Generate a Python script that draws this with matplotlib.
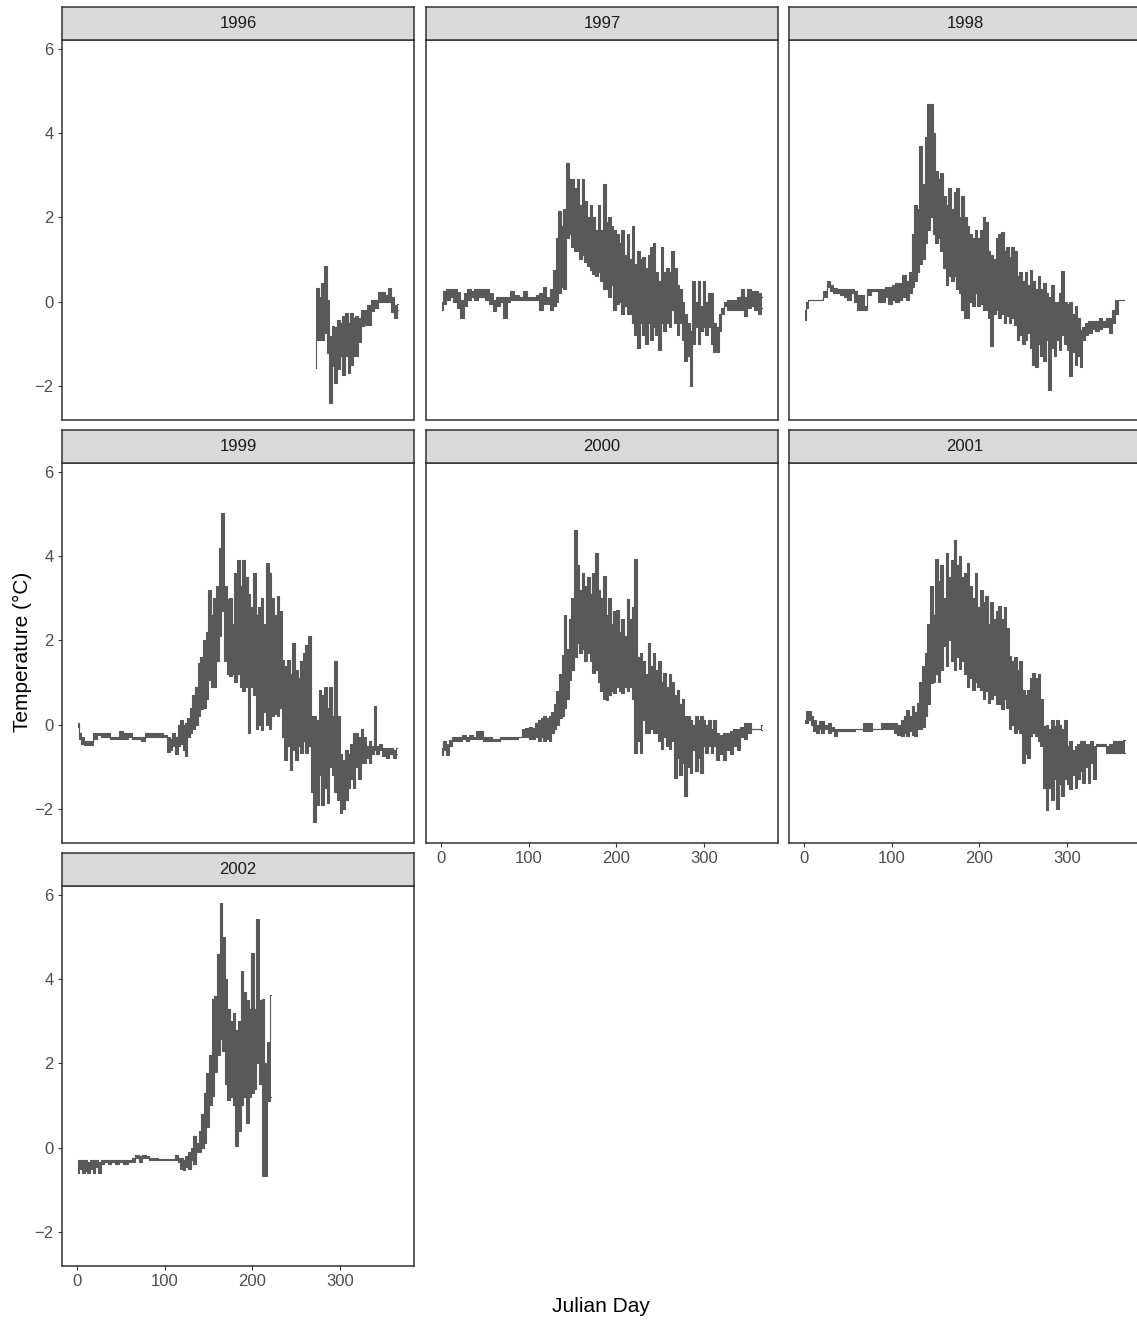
import matplotlib
matplotlib.use('Agg')
import matplotlib.pyplot as plt

plt.rcParams['font.family'] = ['Liberation Sans', 'DejaVu Sans']

# data: daily band (low / high) of temperature per year
YEARS = ["1996", "1997", "1998", "1999", "2000", "2001", "2002"]

DAYS_1996 = [272, 274, 277, 280, 283, 286, 289, 292, 295, 298,
             301, 304, 307, 310, 313, 316, 319, 322, 325, 329,
             333, 337, 341, 345, 349, 353, 357, 360, 363, 366]
LO_1996 = [-1.58, -0.9, -0.9, -0.9, -0.75, -1.22, -2.4, -1.53, -1.93, -1.6,
           -1.3, -1.74, -1.3, -1.7, -1.5, -1.3, -1.3, -0.95, -0.59, -0.55,
           -0.55, -0.23, -0.15, 0.0, 0.0, 0.0, 0.0, -0.25, -0.39, -0.2]
HI_1996 = [0.32, 0.32, 0.1, 0.44, 0.84, 0.05, -0.82, -0.58, -0.6, -0.43,
           -0.5, -0.35, -0.27, -0.5, -0.27, -0.4, -0.35, -0.4, -0.2, -0.2,
           -0.07, 0.05, 0.05, 0.24, 0.24, 0.15, 0.32, 0.1, -0.07, -0.05]

DAYS_1997 = [1, 4, 8, 12, 16, 20, 24, 28, 32, 36,
             40, 44, 48, 52, 57, 61, 65, 69, 73, 77,
             81, 86, 91, 96, 101, 106, 110, 114, 118, 122,
             126, 129, 132, 135, 138, 141, 144, 147, 150, 153,
             156, 159, 162, 165, 168, 171, 174, 177, 180, 183,
             186, 189, 192, 195, 198, 201, 204, 207, 210, 213,
             216, 219, 222, 225, 228, 231, 234, 237, 240, 243,
             246, 249, 252, 255, 258, 261, 264, 267, 270, 273,
             276, 279, 282, 285, 288, 291, 294, 297, 300, 303,
             306, 309, 312, 315, 318, 321, 324, 328, 332, 336,
             340, 344, 347, 351, 355, 359, 363, 366]
LO_1997 = [-0.19, -0.05, 0.05, 0.1, 0.0, -0.15, -0.39, -0.1, 0.05, 0.1,
           0.05, 0.1, 0.1, 0.05, -0.05, -0.22, -0.1, 0.0, -0.39, 0.0,
           0.05, 0.05, 0.05, 0.05, 0.05, 0.05, 0.05, -0.2, -0.05, -0.05,
           -0.2, -0.1, 0.0, 0.2, 0.35, 0.3, 1.5, 1.6, 1.3, 1.2,
           1.2, 1.0, 1.1, 0.95, 0.85, 0.75, 0.65, 0.6, 0.7, 0.5,
           0.3, 0.3, 0.1, 0.4, -0.2, -0.05, 0.0, -0.3, -0.1, -0.3,
           -0.3, -0.5, -0.8, -1.1, -0.5, -0.8, -1.0, -0.5, -0.9, -0.6,
           -0.8, -1.15, -0.5, -0.7, -0.5, -0.6, -0.2, -0.5, -0.8, -0.5,
           -0.9, -1.4, -1.3, -2.0, -1.0, -0.6, -1.0, -0.7, -0.6, -0.8,
           -0.6, -1.0, -1.2, -1.2, -0.7, -0.3, -0.1, -0.2, -0.2, -0.2,
           -0.2, -0.2, -0.35, -0.15, -0.1, -0.2, -0.3, -0.15]
HI_1997 = [0.0, 0.25, 0.3, 0.3, 0.3, 0.22, 0.05, 0.2, 0.3, 0.25,
           0.3, 0.3, 0.3, 0.3, 0.2, 0.05, 0.1, 0.1, 0.1, 0.1,
           0.25, 0.15, 0.1, 0.25, 0.1, 0.1, 0.15, 0.2, 0.35, 0.1,
           0.3, 0.75, 1.5, 2.15, 1.8, 2.2, 3.3, 2.9, 2.9, 2.7,
           2.9, 2.3, 2.9, 2.4, 2.0, 2.3, 2.0, 1.7, 2.3, 1.7,
           2.8, 1.9, 2.0, 1.8, 1.7, 1.6, 1.4, 1.7, 1.1, 1.6,
           1.0, 1.8, 0.9, 1.2, 1.0, 1.05, 0.8, 1.1, 1.3, 1.4,
           0.7, 0.5, 1.3, 0.7, 0.8, 0.7, 1.2, 0.8, 0.4, 0.3,
           0.0, -0.3, -0.5, -0.7, 0.5, 0.0, 0.5, -0.1, 0.5, 0.0,
           0.2, 0.2, -0.5, -0.6, -0.3, -0.15, 0.0, 0.05, 0.05, 0.05,
           0.1, 0.3, 0.1, 0.3, 0.25, 0.25, 0.2, 0.1]

DAYS_1998 = [1, 3, 5, 10, 15, 20, 24, 28, 31, 35,
             39, 43, 47, 51, 55, 59, 62, 66, 70, 74,
             78, 82, 86, 90, 94, 98, 102, 106, 110, 114,
             118, 121, 124, 127, 130, 133, 136, 139, 142, 145,
             148, 151, 154, 157, 160, 163, 166, 169, 172, 175,
             178, 181, 184, 187, 190, 193, 196, 199, 202, 205,
             208, 211, 214, 217, 220, 223, 226, 229, 232, 235,
             238, 241, 244, 247, 250, 253, 256, 259, 262, 265,
             268, 271, 274, 277, 280, 283, 286, 289, 292, 295,
             298, 301, 304, 307, 310, 313, 316, 319, 322, 326,
             330, 334, 338, 342, 346, 350, 353, 356, 360, 365]
LO_1998 = [-0.43, -0.15, 0.03, 0.03, 0.03, 0.03, 0.1, 0.35, 0.25, 0.2,
           0.2, 0.15, 0.1, 0.05, 0.2, 0.0, -0.2, -0.2, -0.2, 0.15,
           0.25, 0.25, 0.0, 0.0, 0.1, -0.05, 0.05, 0.0, 0.05, 0.1,
           0.05, 0.2, 0.35, 0.5, 0.7, 0.9, 1.0, 1.4, 1.7, 2.0,
           1.6, 1.4, 1.5, 1.2, 0.8, 0.4, 0.6, 0.5, 0.6, 0.3,
           0.2, -0.2, -0.4, -0.4, 0.0, -0.1, 0.2, -0.1, -0.05, -0.2,
           -0.2, -0.4, -1.06, -0.3, -0.2, -0.4, -0.3, -0.5, -0.35, -0.5,
           -0.4, -0.55, -0.9, -0.8, -1.0, -0.9, -0.75, -1.1, -1.5, -1.55,
           -1.0, -1.3, -1.4, -0.9, -2.1, -1.1, -1.3, -0.9, -1.15, -0.8,
           -1.0, -1.15, -1.77, -1.2, -1.5, -1.3, -1.55, -0.9, -0.8, -0.75,
           -0.65, -0.7, -0.65, -0.6, -0.6, -0.75, -0.5, -0.3, 0.03, 0.03]
HI_1998 = [-0.2, 0.0, 0.03, 0.03, 0.03, 0.03, 0.25, 0.5, 0.4, 0.33,
           0.3, 0.3, 0.3, 0.3, 0.3, 0.25, 0.15, 0.15, -0.1, 0.3,
           0.3, 0.3, 0.3, 0.3, 0.35, 0.35, 0.4, 0.45, 0.45, 0.64,
           0.5, 0.7, 1.6, 2.3, 2.2, 3.7, 2.8, 3.9, 4.7, 4.7,
           4.0, 3.1, 2.9, 3.05, 2.5, 2.3, 2.7, 2.2, 2.6, 2.7,
           2.0, 2.5, 2.0, 1.8, 1.6, 1.5, 1.7, 1.5, 1.7, 2.0,
           1.9, 1.2, 1.1, 1.0, 1.5, 1.6, 1.65, 1.2, 1.3, 1.05,
           1.3, 1.2, 0.6, 0.7, 0.5, 0.7, 0.4, 0.76, 0.5, 0.3,
           0.6, 0.3, 0.45, 0.2, 0.1, 0.4, 0.0, 0.0, 0.2, 0.72,
           0.0, -0.05, 0.0, -0.3, -0.1, -0.4, -0.67, -0.6, -0.5, -0.45,
           -0.45, -0.45, -0.4, -0.45, -0.4, -0.4, -0.2, 0.03, 0.03, 0.03]

DAYS_1999 = [1, 3, 6, 10, 15, 20, 25, 30, 35, 40,
             45, 50, 55, 60, 65, 70, 75, 80, 85, 90,
             95, 100, 104, 107, 110, 113, 116, 119, 122, 124,
             127, 130, 133, 136, 139, 142, 145, 148, 151, 154,
             157, 160, 163, 166, 169, 172, 175, 178, 181, 184,
             187, 190, 193, 196, 199, 202, 205, 208, 211, 214,
             217, 220, 223, 226, 229, 232, 235, 238, 241, 244,
             247, 250, 253, 256, 259, 262, 265, 268, 271, 274,
             277, 280, 283, 286, 289, 292, 295, 298, 301, 304,
             307, 310, 313, 316, 319, 322, 325, 328, 331, 334,
             337, 340, 343, 346, 350, 354, 358, 362, 365]
LO_1999 = [-0.05, -0.35, -0.45, -0.48, -0.48, -0.35, -0.25, -0.3, -0.3, -0.35,
           -0.35, -0.35, -0.35, -0.3, -0.35, -0.35, -0.4, -0.3, -0.3, -0.3,
           -0.3, -0.3, -0.65, -0.6, -0.5, -0.7, -0.5, -0.45, -0.6, -0.75,
           -0.3, -0.2, -0.1, 0.0, 0.2, 0.36, 0.4, 0.6, 1.07, 0.9,
           0.9, 1.5, 2.1, 2.7, 1.5, 1.2, 1.15, 1.2, 1.0, 1.2,
           0.9, 0.8, 0.9, -0.2, 0.9, 0.7, -0.1, 0.0, -0.12, 0.3,
           0.0, -0.1, 0.2, 0.25, 0.2, 0.4, -0.3, -0.83, -0.5, -1.07,
           -0.6, -0.83, -0.5, -0.67, -0.4, -0.67, -0.5, -1.6, -2.3, -1.9,
           -1.2, -1.9, -1.5, -1.85, -1.0, -1.2, -1.6, -1.8, -2.1, -2.0,
           -1.8, -1.5, -1.3, -1.5, -1.0, -1.3, -0.9, -0.9, -0.8, -0.9,
           -0.7, -0.6, -0.7, -0.6, -0.75, -0.8, -0.7, -0.8, -0.7]
HI_1999 = [0.04, -0.2, -0.3, -0.4, -0.4, -0.2, -0.2, -0.2, -0.2, -0.3,
           -0.3, -0.15, -0.2, -0.2, -0.3, -0.3, -0.3, -0.2, -0.2, -0.2,
           -0.2, -0.25, -0.3, -0.35, -0.2, -0.3, 0.0, 0.1, 0.0, 0.05,
           0.15, 0.4, 0.7, 0.9, 1.46, 1.6, 2.0, 2.2, 3.2, 2.6,
           3.0, 3.3, 4.2, 5.03, 3.3, 2.97, 3.0, 2.4, 3.6, 3.9,
           3.3, 3.9, 3.5, 3.1, 2.8, 3.6, 2.6, 2.8, 3.0, 2.4,
           3.84, 3.6, 3.0, 2.6, 3.05, 2.7, 1.54, 1.4, 1.54, 1.2,
           1.94, 1.3, 1.1, 1.5, 1.7, 1.9, 2.1, 0.2, 0.2, 0.1,
           0.83, 0.7, 0.9, 0.4, 0.9, 0.2, 1.5, 0.2, -0.7, -0.83,
           -0.6, -0.7, -0.45, -0.2, -0.2, -0.3, -0.1, -0.3, -0.5, -0.4,
           -0.5, 0.44, -0.5, -0.45, -0.55, -0.55, -0.55, -0.6, -0.55]

DAYS_2000 = [1, 4, 7, 10, 14, 18, 22, 26, 30, 34,
             38, 42, 46, 50, 55, 60, 65, 70, 75, 80,
             85, 90, 94, 98, 102, 106, 109, 112, 115, 118,
             121, 124, 127, 130, 133, 136, 139, 141, 144, 147,
             150, 153, 156, 159, 162, 165, 168, 171, 174, 177,
             180, 183, 186, 189, 192, 195, 198, 201, 204, 207,
             210, 213, 216, 219, 222, 225, 228, 231, 234, 237,
             240, 243, 246, 249, 252, 255, 258, 261, 264, 267,
             270, 273, 276, 279, 282, 285, 288, 291, 294, 297,
             300, 303, 306, 309, 312, 315, 319, 323, 327, 331,
             335, 339, 343, 347, 351, 355, 359, 363, 366]
LO_2000 = [-0.71, -0.6, -0.71, -0.5, -0.4, -0.4, -0.4, -0.35, -0.4, -0.35,
           -0.35, -0.35, -0.35, -0.4, -0.4, -0.4, -0.4, -0.35, -0.35, -0.35,
           -0.35, -0.3, -0.3, -0.3, -0.35, -0.35, -0.3, -0.4, -0.3, -0.4,
           -0.35, -0.4, -0.2, -0.1, 0.0, 0.15, 0.2, 0.4, 0.6, 1.07,
           1.3, 1.6, 1.94, 1.7, 1.8, 1.5, 1.7, 1.5, 1.23, 1.3,
           1.0, 0.8, 0.6, 0.59, 0.7, 0.8, 0.75, 0.9, 0.8, 0.75,
           0.9, 0.8, 0.9, 0.6, -0.67, -0.4, -0.67, 0.1, -0.2, -0.2,
           -0.1, -0.2, -0.2, -0.4, -0.59, -0.3, -0.5, -0.59, -0.4, -1.27,
           -0.8, -1.2, -0.9, -1.7, -1.0, -1.15, -0.6, -1.1, -0.8, -1.15,
           -0.5, -0.67, -0.5, -0.67, -0.5, -0.83, -0.7, -0.83, -0.6, -0.7,
           -0.5, -0.6, -0.3, -0.35, -0.2, -0.1, -0.1, -0.1, -0.12]
HI_2000 = [-0.55, -0.4, -0.45, -0.36, -0.3, -0.3, -0.3, -0.25, -0.3, -0.25,
           -0.3, -0.16, -0.16, -0.3, -0.3, -0.35, -0.35, -0.3, -0.3, -0.3,
           -0.3, -0.3, -0.1, -0.08, -0.05, -0.08, 0.05, 0.1, 0.15, 0.2,
           0.15, 0.2, 0.3, 0.5, 0.8, 1.2, 1.66, 2.61, 1.8, 2.5,
           3.0, 4.63, 3.8, 3.2, 3.6, 3.3, 3.5, 3.1, 3.6, 4.08,
           3.2, 3.0, 3.52, 2.6, 3.0, 2.4, 2.7, 2.73, 2.2, 2.5,
           2.1, 2.97, 2.5, 2.8, 3.92, 1.6, 1.7, 1.5, 1.2, 1.94,
           1.4, 1.7, 1.3, 1.5, 1.0, 1.23, 0.9, 1.2, 1.0, 0.7,
           0.83, 0.5, 0.6, 0.2, 0.2, 0.1, 0.0, 0.2, 0.1, 0.2,
           0.1, 0.0, 0.12, -0.1, 0.1, -0.2, -0.25, -0.2, -0.2, -0.15,
           -0.1, -0.1, -0.05, 0.04, 0.04, -0.1, -0.1, -0.1, 0.0]

DAYS_2001 = [1, 3, 6, 9, 12, 15, 18, 21, 25, 29,
             33, 36, 40, 45, 50, 55, 60, 65, 70, 75,
             80, 85, 90, 95, 100, 104, 108, 112, 115, 118,
             121, 124, 127, 130, 133, 136, 139, 142, 145, 148,
             151, 154, 157, 160, 163, 166, 169, 172, 175, 178,
             181, 184, 187, 190, 193, 196, 199, 202, 205, 208,
             211, 214, 217, 220, 223, 226, 229, 232, 235, 238,
             241, 244, 247, 250, 253, 256, 259, 262, 265, 268,
             271, 274, 277, 280, 283, 286, 289, 292, 295, 298,
             301, 304, 307, 310, 313, 316, 319, 322, 325, 328,
             331, 334, 338, 342, 346, 350, 354, 358, 362, 366]
LO_2001 = [0.04, 0.04, 0.1, 0.0, -0.15, -0.2, -0.1, -0.2, -0.1, -0.2,
           -0.15, -0.28, -0.15, -0.15, -0.15, -0.15, -0.1, -0.1, -0.15, -0.15,
           -0.1, -0.1, -0.1, -0.1, -0.1, -0.2, -0.25, -0.28, -0.2, -0.28,
           -0.15, -0.25, -0.28, -0.1, -0.1, -0.05, 0.2, 0.5, 0.99, 1.0,
           1.2, 1.0, 1.3, 1.86, 1.4, 2.0, 1.5, 1.3, 1.6, 1.31,
           1.5, 1.2, 0.9, 1.1, 0.83, 1.0, 0.9, 0.83, 0.6, 0.8,
           0.51, 0.6, 0.7, 0.5, 0.5, 0.36, 0.6, 0.4, -0.1, 0.0,
           -0.2, -0.1, -0.2, -0.91, -0.7, -0.8, -0.28, -0.2, -0.28, -0.4,
           -0.5, -1.5, -2.02, -1.5, -1.8, -1.3, -2.0, -1.4, -1.7, -1.3,
           -1.4, -1.54, -1.2, -1.5, -1.3, -1.1, -1.39, -1.0, -1.39, -0.9,
           -1.3, -0.5, -0.5, -0.5, -0.67, -0.67, -0.67, -0.67, -0.67, -0.67]
HI_2001 = [0.1, 0.32, 0.32, 0.2, 0.1, 0.0, 0.08, 0.08, 0.0, 0.05,
           -0.05, -0.1, -0.1, -0.1, -0.1, -0.1, -0.1, -0.1, 0.05, 0.05,
           -0.1, -0.1, 0.05, 0.05, 0.05, 0.05, 0.0, 0.1, 0.2, 0.35,
           0.2, 0.45, 0.3, 0.51, 1.0, 1.4, 1.7, 2.4, 3.3, 2.6,
           3.92, 3.4, 3.8, 3.0, 4.08, 3.5, 3.9, 4.39, 3.8, 4.0,
           3.5, 3.6, 3.84, 3.3, 3.0, 3.6, 2.8, 3.2, 2.9, 3.05,
           2.4, 2.9, 2.5, 2.7, 2.81, 2.5, 2.8, 2.3, 1.62, 1.5,
           1.6, 1.3, 1.5, 0.83, 0.7, 0.83, 1.1, 1.23, 1.1, 1.2,
           0.6, -0.04, 0.0, -0.1, 0.1, -0.04, 0.12, 0.0, -0.1, 0.1,
           -0.51, -0.4, -0.6, -0.5, -0.45, -0.4, -0.4, -0.45, -0.45, -0.4,
           -0.5, -0.47, -0.47, -0.47, -0.5, -0.45, -0.4, -0.4, -0.4, -0.37]

DAYS_2002 = [1, 4, 7, 10, 13, 16, 19, 22, 25, 29,
             33, 37, 41, 45, 50, 55, 60, 65, 68, 72,
             76, 80, 85, 90, 95, 100, 105, 110, 113, 116,
             119, 122, 125, 128, 131, 134, 137, 140, 143, 146,
             149, 152, 155, 158, 161, 164, 167, 170, 173, 176,
             179, 182, 185, 188, 191, 194, 197, 200, 203, 206,
             209, 212, 215, 218, 221]
LO_2002 = [-0.6, -0.5, -0.6, -0.55, -0.6, -0.5, -0.6, -0.45, -0.6, -0.4,
           -0.35, -0.4, -0.35, -0.4, -0.35, -0.4, -0.35, -0.35, -0.25, -0.35,
           -0.25, -0.25, -0.3, -0.3, -0.29, -0.29, -0.29, -0.3, -0.3, -0.35,
           -0.5, -0.52, -0.45, -0.5, -0.3, -0.4, -0.1, -0.1, 0.0, 0.11,
           0.5, 1.0, 1.22, 1.8, 2.2, 2.57, 2.3, 1.5, 1.14, 1.2,
           1.0, 0.03, 0.4, 1.0, 1.2, 0.59, 1.2, 1.3, 1.4, 2.0,
           1.5, -0.68, -0.68, 1.1, 1.2]
HI_2002 = [-0.29, -0.29, -0.3, -0.29, -0.35, -0.3, -0.3, -0.3, -0.35, -0.29,
           -0.29, -0.29, -0.29, -0.29, -0.3, -0.29, -0.3, -0.25, -0.17, -0.2,
           -0.17, -0.2, -0.25, -0.25, -0.27, -0.27, -0.27, -0.27, -0.17, -0.25,
           -0.25, -0.3, -0.2, -0.1, 0.0, 0.27, 0.1, 0.4, 0.8, 1.3,
           1.77, 2.2, 3.52, 3.6, 4.6, 5.81, 5.0, 4.0, 3.3, 3.0,
           3.2, 2.8, 3.0, 4.2, 3.7, 3.5, 3.3, 4.62, 3.3, 5.42,
           3.5, 3.52, 2.0, 2.5, 3.63]

SERIES = {
    "1996": (DAYS_1996, LO_1996, HI_1996),
    "1997": (DAYS_1997, LO_1997, HI_1997),
    "1998": (DAYS_1998, LO_1998, HI_1998),
    "1999": (DAYS_1999, LO_1999, HI_1999),
    "2000": (DAYS_2000, LO_2000, HI_2000),
    "2001": (DAYS_2001, LO_2001, HI_2001),
    "2002": (DAYS_2002, LO_2002, HI_2002),
}

X_TICKS = [0, 100, 200, 300]
Y_TICKS = [-2, 0, 2, 4, 6]

# --- layout (pixels) ---
W, H = 1137, 1322
COL_LEFT = [62, 426, 789]
ROW_TOP = [40, 463, 886]
PANEL_W, PANEL_H, STRIP_H = 352, 380, 33
LINE_C = "#595959"
EDGE_C = "#333333"

fig = plt.figure(figsize=(W / 100, H / 100), dpi=100)


def px_axes(left, top, w, h):
    return fig.add_axes([left / W, 1 - (top + h) / H, w / W, h / H])


# bottom row used by each column (facet_wrap puts x axis under last panel)
bottom_panel = {0: 6, 1: 4, 2: 5}

for i, year in enumerate(YEARS):
    r, c = divmod(i, 3)
    ax = px_axes(COL_LEFT[c], ROW_TOP[r], PANEL_W, PANEL_H)
    days, lo, hi = SERIES[year]
    ax.fill_between(days, lo, hi, step="mid", color=LINE_C, lw=0)
    ax.step(days, lo, where="mid", color=LINE_C, lw=0.8)
    ax.step(days, hi, where="mid", color=LINE_C, lw=0.8)

    ax.set_xlim(-17.3, 384.3)
    ax.set_ylim(-2.81, 6.21)
    ax.set_xticks(X_TICKS)
    ax.set_yticks(Y_TICKS)
    for s in ax.spines.values():
        s.set_color(EDGE_C)
        s.set_linewidth(1.1)
    ax.tick_params(colors=EDGE_C, labelcolor="#4d4d4d", labelsize=12,
                   length=3, width=0.8, pad=3)
    if c != 0:
        ax.tick_params(left=False, labelleft=False)
    if bottom_panel[c] != i:
        ax.tick_params(bottom=False, labelbottom=False)

    # facet strip
    sax = px_axes(COL_LEFT[c], ROW_TOP[r] - STRIP_H, PANEL_W, STRIP_H)
    sax.set_facecolor("#d9d9d9")
    sax.set_xticks([])
    sax.set_yticks([])
    for s in sax.spines.values():
        s.set_color(EDGE_C)
        s.set_linewidth(1.1)
    sax.text(0.5, 0.5, year, ha="center", va="center", fontsize=12,
             color="#1a1a1a", transform=sax.transAxes)

fig.text(601 / W, 1 - 1307 / H, "Julian Day", ha="center", va="center",
         fontsize=15, color="black")
fig.text(22 / W, 1 - 652 / H, "Temperature (°C)", ha="center", va="center",
         rotation=90, fontsize=15, color="black")

fig.savefig("out.png", dpi=100, facecolor="white")
